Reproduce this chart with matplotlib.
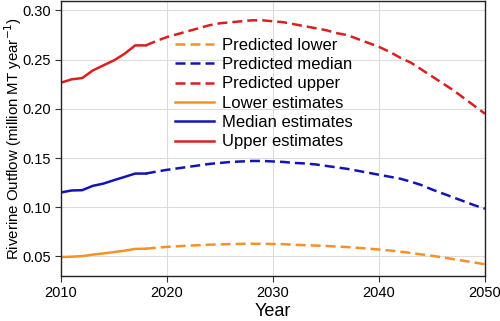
import matplotlib
matplotlib.use("Agg")
import matplotlib.pyplot as plt

plt.rcParams['font.family'] = ['Liberation Sans', 'DejaVu Sans']

# Observed estimates (2010-2018)
years_obs = [2010, 2011, 2012, 2013, 2014, 2015, 2016, 2017, 2018]
lower_obs = [0.0493, 0.0497, 0.0503, 0.0518, 0.0530, 0.0544, 0.0558, 0.0576, 0.0578]
median_obs = [0.1150, 0.1170, 0.1173, 0.1217, 0.1240, 0.1275, 0.1308, 0.1342, 0.1342]
upper_obs = [0.2266, 0.2300, 0.2313, 0.2390, 0.2442, 0.2493, 0.2560, 0.2645, 0.2645]

# Predictions (2018-2050)
years_pred = list(range(2018, 2051))
lower_pred = [0.0578, 0.0588, 0.0597, 0.0603, 0.0609, 0.0614, 0.0619, 0.0622, 0.0625,
              0.0627, 0.0628, 0.0628, 0.0626, 0.0624, 0.0618, 0.0614, 0.0610, 0.0606,
              0.0600, 0.0595, 0.0587, 0.0579, 0.0570, 0.0560, 0.0548, 0.0535, 0.0520,
              0.0506, 0.0490, 0.0472, 0.0455, 0.0438, 0.0420]
median_pred = [0.1342, 0.1362, 0.1380, 0.1395, 0.1410, 0.1425, 0.1440, 0.1450, 0.1460,
               0.1465, 0.1470, 0.1470, 0.1465, 0.1460, 0.1450, 0.1445, 0.1435, 0.1420,
               0.1405, 0.1390, 0.1370, 0.1350, 0.1330, 0.1310, 0.1290, 0.1260, 0.1225,
               0.1180, 0.1140, 0.1100, 0.1060, 0.1020, 0.0985]
upper_pred = [0.2645, 0.2690, 0.2730, 0.2760, 0.2790, 0.2820, 0.2850, 0.2870, 0.2880,
              0.2890, 0.2900, 0.2900, 0.2890, 0.2880, 0.2860, 0.2840, 0.2820, 0.2800,
              0.2770, 0.2750, 0.2710, 0.2670, 0.2630, 0.2580, 0.2520, 0.2470, 0.2400,
              0.2330, 0.2260, 0.2190, 0.2110, 0.2030, 0.1950]

x_ticks = [2010, 2020, 2030, 2040, 2050]
y_ticks = [0.05, 0.10, 0.15, 0.20, 0.25, 0.30]

c_lower = '#F39325'
c_median = '#1414B4'
c_upper = '#DC1E1E'

fig = plt.figure(figsize=(5.0, 3.21), dpi=100)
ax = fig.add_axes([0.122, 0.140, 0.848, 0.858])

lw = 1.8
dash = (4, 2)
ax.plot(years_pred, lower_pred, '--', color=c_lower, lw=lw, dashes=dash, label='Predicted lower')
ax.plot(years_pred, median_pred, '--', color=c_median, lw=lw, dashes=dash, label='Predicted median')
ax.plot(years_pred, upper_pred, '--', color=c_upper, lw=lw, dashes=dash, label='Predicted upper')
ax.plot(years_obs, lower_obs, '-', color=c_lower, lw=lw, label='Lower estimates')
ax.plot(years_obs, median_obs, '-', color=c_median, lw=lw, label='Median estimates')
ax.plot(years_obs, upper_obs, '-', color=c_upper, lw=lw, label='Upper estimates')

ax.set_xlim(2010, 2050)
ax.set_ylim(0.03, 0.31)
ax.set_xticks(x_ticks)
ax.set_yticks(y_ticks)
ax.set_yticklabels([f'{v:.2f}' for v in y_ticks])
ax.grid(True, color='#dcdcdc', lw=0.8)
ax.set_axisbelow(True)
ax.tick_params(labelsize=10.5, length=4, direction='out', color='#333333')
for s in ax.spines.values():
    s.set_color('#222222')
    s.set_linewidth(1.0)

ax.set_xlabel('Year', fontsize=13, labelpad=2)
ax.set_ylabel('Riverine Outflow (million MT year$^{-1}$)', fontsize=10.8)
ax.yaxis.set_label_coords(-0.088, 0.5)

leg = ax.legend(loc='upper left', bbox_to_anchor=(0.27, 0.865), frameon=False,
                fontsize=12, handlelength=2.3, handletextpad=0.5,
                labelspacing=0.26, borderpad=0, borderaxespad=0)

fig.savefig('out.png', dpi=100)
